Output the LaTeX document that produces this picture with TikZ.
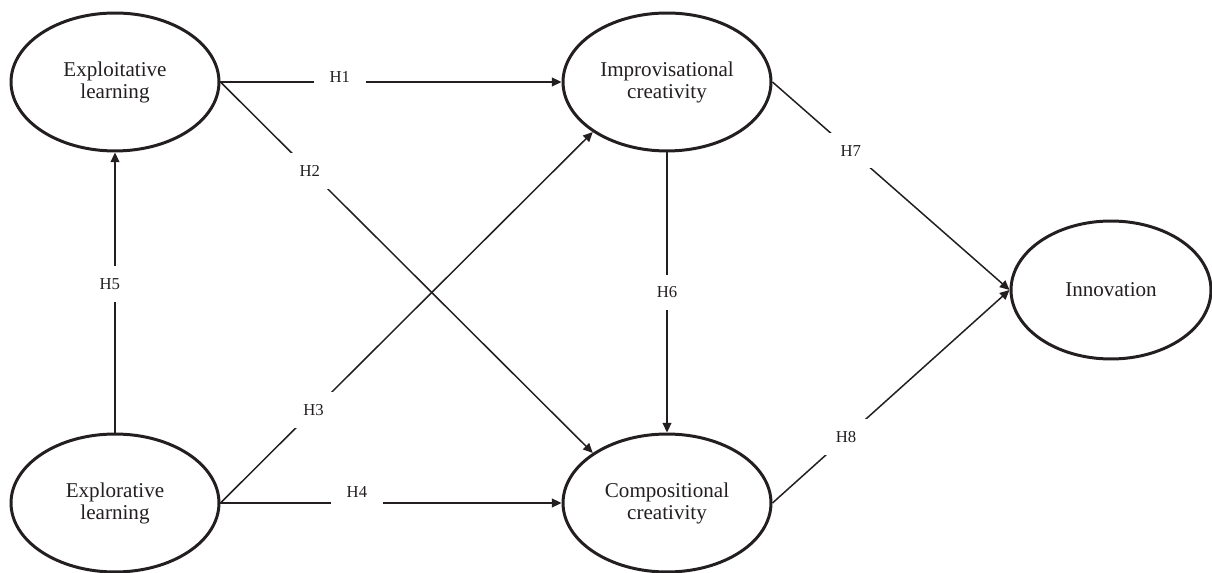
\documentclass[tikz,border=0pt]{standalone}
\usepackage{fontspec}
\setmainfont{Liberation Serif}
\usetikzlibrary{arrows.meta, shapes.geometric}
\definecolor{pathblack}{RGB}{35, 31, 32}
\tikzset{
    construct/.style={ellipse, draw=pathblack, line width=1.7pt, minimum width=4.16cm, minimum height=2.76cm, inner sep=0pt, align=center, text=pathblack, font=\fontsize{12}{12.5}\selectfont},
    hyp/.style={draw=pathblack, line width=0.85pt, -{Triangle[length=5.5pt, width=5pt]}},
    hlabel/.style={fill=white, inner xsep=9pt, inner ysep=7pt, text=pathblack, font=\fontsize{9.5}{11}\selectfont}
}

\begin{document}
\begin{tikzpicture}[x=0.02cm, y=-0.02cm]
    \useasboundingbox (0,0) rectangle (1212,573);
    % constructs
    \node[construct] (exploit) at (115,82) {Exploitative\\learning};
    \node[construct] (improv) at (667,82) {Improvisational\\creativity};
    \node[construct] (explore) at (115,503) {Explorative\\learning};
    \node[construct] (compo) at (667,503) {Compositional\\creativity};
    \node[construct, minimum width=4.0cm] (innov) at (1111,290) {Innovation};
    % hypotheses
    \draw[hyp] (exploit.east) -- node[hlabel, pos=0.35, yshift=3pt] {H1} (improv.west);
    \draw[hyp] (exploit.east) -- node[hlabel, pos=0.24] {H2} (compo.146);
    \draw[hyp] (explore.east) -- node[hlabel, pos=0.25] {H3} (improv.214);
    \draw[hyp] (explore.east) -- node[hlabel, pos=0.4, yshift=6pt] {H4} (compo.west);
    \draw[hyp] (explore.north) -- node[hlabel, pos=0.53, xshift=-3pt] {H5} (exploit.south);
    \draw[hyp] (improv.south) -- node[hlabel, pos=0.5] {H6} (compo.north);
    \draw[hyp] (improv.east) -- node[hlabel, pos=0.33] {H7} (innov.west);
    \draw[hyp] (compo.east) -- node[hlabel, pos=0.31] {H8} (innov.west);
\end{tikzpicture}
\end{document}
